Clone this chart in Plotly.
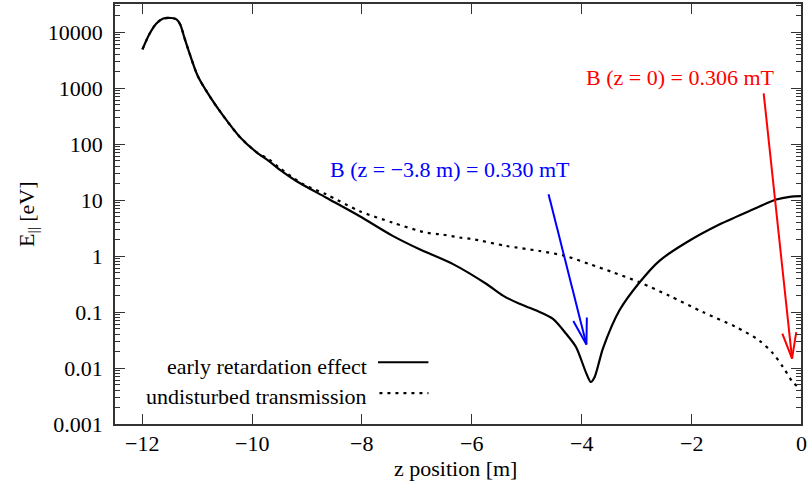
import plotly.graph_objects as go
import math

# --- data ---
z_early = [-12.00, -11.87, -11.75, -11.62, -11.47, -11.38, -11.31, -11.24, -11.14, -10.99, -10.77,
           -10.53, -10.23, -9.92, -9.70, -9.50, -9.19, -8.65, -8.04, -7.44, -6.95,
           -6.34, -5.73, -5.43, -5.13, -4.82, -4.52, -4.28, -4.10, -3.91,
           -3.83, -3.76, -3.67, -3.61, -3.31, -2.94, -2.58, -2.09, -1.48,
           -0.88, -0.45, -0.21, 0.00]
E_early = [4900, 9300, 14100, 17400, 17800, 16800, 13500, 8200, 4100, 1620, 700,
           320, 135, 70.8, 50, 34.7, 21.6, 11.0, 5.13, 2.29, 1.32,
           0.716, 0.316, 0.196, 0.140, 0.106, 0.0755, 0.0409, 0.0237, 0.00794,
           0.00562, 0.00692, 0.0138, 0.0221, 0.106, 0.339, 0.820, 1.74, 3.68,
           6.76, 10.2, 11.4, 11.7]

z_undist = [-12.00, -11.87, -11.75, -11.62, -11.47, -11.38, -11.31, -11.24, -11.14, -10.99, -10.77,
            -10.53, -10.23, -9.92, -9.70, -9.50, -9.07, -8.65, -8.04, -7.44, -6.83,
            -6.58, -6.22, -5.98, -5.37, -4.76, -4.31, -3.85, -3.43, -2.94, -2.40,
            -1.79, -1.18, -0.76, -0.51, -0.33, -0.15, 0.00]
E_undist = [4900, 9300, 14100, 17400, 17800, 16800, 13500, 8200, 4100, 1620, 700,
            320, 135, 71.5, 53.7, 37.2, 19.1, 12.6, 6.31, 3.94, 2.61,
            2.45, 2.14, 2.00, 1.51, 1.23, 1.01, 0.716, 0.513, 0.339, 0.195,
            0.100, 0.0537, 0.0309, 0.0182, 0.0105, 0.00562, 0.00417]

x_ticks = [-12, -10, -8, -6, -4, -2, 0]
x_ticktext = ["\u221212", "\u221210", "\u22128", "\u22126", "\u22124", "\u22122", "0"]
y_ticks = [0.001, 0.01, 0.1, 1, 10, 100, 1000, 10000]
y_ticktext = ["0.001", "0.01", "0.1", "1", "10", "100", "1000", "10000"]

series_names = ["early retardation effect", "undisturbed transmission"]

# annotation arrows: (tail z, tail E) -> (tip z, tip E)
blue_label = "B (z = \u22123.8 m) = 0.330 mT"
blue_text_pos = (-6.40, 34.5)
blue_tail = (-4.60, 12.7)
blue_tip = (-3.91, 0.0264)
red_label = "B (z = 0) = 0.306 mT"
red_text_pos = (-2.20, 1560)
red_tail = (-0.68, 802)
red_tip = (-0.163, 0.0147)

FONT = "Liberation Serif, Times New Roman, serif"
FS = 22

X_RANGE = [-12.5, 0]
Y_RANGE = [-3, 4.5]
MARGIN = dict(l=115, r=8, t=2, b=62)
W, H = 809, 486
PW = W - MARGIN["l"] - MARGIN["r"]
PH = H - MARGIN["t"] - MARGIN["b"]


def to_px(z, e):
    return ((z - X_RANGE[0]) * PW / (X_RANGE[1] - X_RANGE[0]),
            -(math.log10(e) - Y_RANGE[0]) * PH / (Y_RANGE[1] - Y_RANGE[0]))


def from_px(px, py):
    return (X_RANGE[0] + px * (X_RANGE[1] - X_RANGE[0]) / PW,
            10 ** (Y_RANGE[0] - py * (Y_RANGE[1] - Y_RANGE[0]) / PH))


def arrow_trace(tail, tip, color, head_len=27, head_ang=15):
    tx, ty = to_px(*tail)
    hx, hy = to_px(*tip)
    dx, dy = tx - hx, ty - hy
    L = math.hypot(dx, dy)
    ux, uy = dx / L, dy / L
    arms = []
    for s in (-1, 1):
        a = math.radians(head_ang) * s
        rx = ux * math.cos(a) - uy * math.sin(a)
        ry = ux * math.sin(a) + uy * math.cos(a)
        arms.append(from_px(hx + rx * head_len, hy + ry * head_len))
    xs = [tail[0], tip[0], None, arms[0][0], tip[0], arms[1][0]]
    ys = [tail[1], tip[1], None, arms[0][1], tip[1], arms[1][1]]
    return go.Scatter(x=xs, y=ys, mode="lines", line=dict(color=color, width=2),
                      hoverinfo="skip", showlegend=False)


fig = go.Figure()
fig.add_trace(go.Scatter(x=z_early, y=E_early, mode="lines", name=series_names[0],
                         line=dict(color="black", width=2.2, shape="spline", smoothing=0.8),
                         showlegend=False))
fig.add_trace(go.Scatter(x=z_undist, y=E_undist, mode="lines", name=series_names[1],
                         line=dict(color="black", width=2.2, dash="3px,5px", shape="spline", smoothing=0.8),
                         showlegend=False))
fig.add_trace(arrow_trace(blue_tail, blue_tip, "#0000ff"))
fig.add_trace(arrow_trace(red_tail, red_tip, "#ff0000"))

lg = math.log10
annots = [
    dict(x=blue_text_pos[0], y=lg(blue_text_pos[1]), xref="x", yref="y", text=blue_label,
         showarrow=False, font=dict(color="#0000ff", size=FS, family=FONT)),
    dict(x=red_text_pos[0], y=lg(red_text_pos[1]), xref="x", yref="y", text=red_label,
         showarrow=False, font=dict(color="#ff0000", size=FS, family=FONT)),
    # legend texts
    dict(x=0.370, y=0.137, xref="paper", yref="paper", text=series_names[0], showarrow=False,
         xanchor="right", yanchor="middle", font=dict(size=FS, family=FONT, color="black")),
    dict(x=0.370, y=0.066, xref="paper", yref="paper", text=series_names[1], showarrow=False,
         xanchor="right", yanchor="middle", font=dict(size=FS, family=FONT, color="black")),
    # axis titles
    dict(x=0.497, y=-0.107, xref="paper", yref="paper", text="z position [m]", showarrow=False,
         xanchor="center", yanchor="middle", borderpad=0,
         font=dict(size=FS, family=FONT, color="black")),
    dict(x=-0.127, y=0.5, xref="paper", yref="paper", text="E<sub>||</sub> [eV]", showarrow=False,
         textangle=-90, xanchor="center", yanchor="middle", font=dict(size=FS, family=FONT, color="black")),
]
# x tick labels (placed just below the axis)
for v, t in zip(x_ticks, x_ticktext):
    annots.append(dict(x=v, y=0, xref="x", yref="paper", text=t, showarrow=False,
                       xanchor="center", yanchor="middle", yshift=-19, borderpad=0,
                       font=dict(size=FS, family=FONT, color="black")))

shapes = [
    dict(type="line", xref="paper", yref="paper", x0=0.3834, x1=0.4569, y0=0.147, y1=0.147,
         line=dict(color="black", width=2.2)),
    dict(type="line", xref="paper", yref="paper", x0=0.3855, x1=0.4569, y0=0.0735, y1=0.0735,
         line=dict(color="black", width=2.2, dash="3px,5px")),
]

axis_common = dict(showline=True, linecolor="#333333", linewidth=1.5, mirror="allticks",
                   ticks="inside", tickcolor="#333333", tickwidth=1.2, showgrid=False,
                   zeroline=False, tickfont=dict(size=FS, family=FONT, color="black"))

fig.update_layout(
    width=W, height=H,
    margin=MARGIN,
    paper_bgcolor="white", plot_bgcolor="white",
    font=dict(family=FONT, size=FS, color="black"),
    annotations=annots, shapes=shapes, showlegend=False,
    xaxis=dict(range=X_RANGE, tickvals=x_ticks, ticktext=x_ticktext, ticklen=10,
               showticklabels=False, **axis_common),
    yaxis=dict(type="log", range=Y_RANGE, tickvals=y_ticks, ticktext=y_ticktext, ticklen=10,
               ticklabelstandoff=6,
               minor=dict(ticks="inside", ticklen=5, dtick="D1", tickcolor="#333333", showgrid=False),
               **axis_common),
)

fig.write_html("out.html")
